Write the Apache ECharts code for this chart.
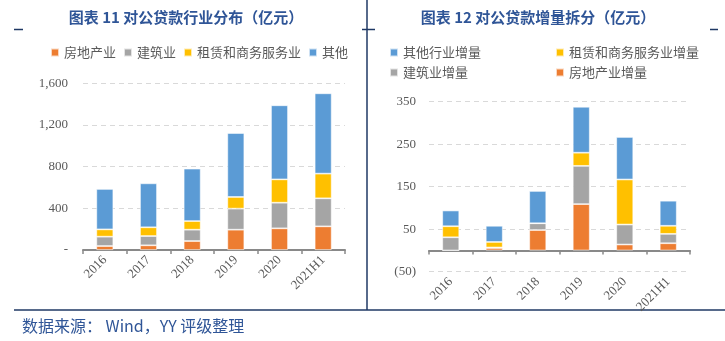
<!DOCTYPE html>
<html><head><meta charset="utf-8">
<script src="https://cdn.jsdelivr.net/npm/echarts@6/dist/echarts.min.js"></script>
<style>html,body{margin:0;padding:0;background:#fff}#c{width:725px;height:341px}</style>
</head><body><div id="c"></div>
<script>
// ---- data ----
const categories = ['2016','2017','2018','2019','2020','2021H1'];
// left chart: 对公贷款行业分布（亿元）
const leftNames = ['房地产业','建筑业','租赁和商务服务业','其他'];
const leftRealEstate = [38, 45, 86, 195, 208, 227];
const leftConstruction = [90, 89, 109, 202, 246, 269];
const leftLeasing = [70, 84, 83, 112, 224, 237];
const leftOther = [388, 422, 503, 614, 711, 771];
const leftTicks = [0, 400, 800, 1200, 1600];
// right chart: 对公贷款增量拆分（亿元）
const rightNames = ['房地产业增量','建筑业增量','租赁和商务服务业增量','其他行业增量'];
const rightRealEstate = [0, 6, 48, 109, 14, 17];
const rightConstruction = [31, 1, 16, 90, 47, 22];
const rightLeasing = [26, 13, 0, 31, 106, 19];
const rightOther = [37, 38, 76, 108, 100, 59];
const rightTicks = [-50, 50, 150, 250, 350];

const colors = ['#ED7D31','#A5A5A5','#FFC000','#5B9BD5'];
const gray = '#595959';
const serif = "'Liberation Serif','Times New Roman',serif";
const cjk = "'Noto Sans CJK SC','Noto Sans',sans-serif";
const navy = '#1F3864';

const chart = echarts.init(document.getElementById('c'), null, {renderer:'canvas'});

function bar(name, data, idx, color){
  return {name, type:'bar', stack:'s'+idx, xAxisIndex:idx, yAxisIndex:idx, data,
    barWidth:17, itemStyle:{color, borderColor:'rgba(255,255,255,0.7)', borderWidth:0.8}};
}
const xAxisBase = {
  type:'category', data:categories,
  axisLine:{lineStyle:{color:'#898989', width:2}},
  axisTick:{show:true, length:4, lineStyle:{color:'#898989', width:1.5}},
  axisLabel:{rotate:45, fontFamily:serif, fontSize:13, color:gray, margin:8, interval:0}
};
const legendText = {fontFamily:cjk, fontSize:13, color:gray};
function leg(name, left, top){
  return {data:[name], left, top, padding:0, itemWidth:8, itemHeight:8, icon:'rect',
    itemGap:5, textStyle:legendText, selectedMode:false};
}

chart.setOption({
  animation:false,
  grid:[
    {left:83, width:262, top:83.3, height:166.7},
    {left:429, width:261, top:101.7, height:170}
  ],
  xAxis:[
    Object.assign({gridIndex:0}, xAxisBase),
    Object.assign({gridIndex:1}, xAxisBase)
  ],
  yAxis:[
    {gridIndex:0, type:'value', min:leftTicks[0], max:leftTicks[leftTicks.length-1], interval:400,
     axisLine:{show:false}, axisTick:{show:false},
     splitLine:{lineStyle:{color:'#D9D9D9', type:[5,4], width:1}},
     axisLabel:{fontFamily:serif, fontSize:13, color:gray, margin:15,
       formatter:v => v===0 ? '-' : v.toLocaleString('en-US')}},
    {gridIndex:1, type:'value', min:rightTicks[0], max:rightTicks[rightTicks.length-1], interval:100,
     axisLine:{show:false}, axisTick:{show:false},
     splitLine:{lineStyle:{color:'#D9D9D9', type:[5,4], width:1}},
     axisLabel:{fontFamily:serif, fontSize:13, color:gray, margin:13,
       formatter:v => v<0 ? '('+(-v)+')' : String(v)}}
  ],
  legend:[
    {data:leftNames, left:50, top:46, padding:0, itemWidth:8, itemHeight:8, icon:'rect',
     itemGap:7, textStyle:legendText, selectedMode:false},
    leg('其他行业增量', 389, 46),
    leg('租赁和商务服务业增量', 555, 46),
    leg('建筑业增量', 389, 66),
    leg('房地产业增量', 555, 66)
  ],
  series:[
    bar(leftNames[0], leftRealEstate, 0, colors[0]),
    bar(leftNames[1], leftConstruction, 0, colors[1]),
    bar(leftNames[2], leftLeasing, 0, colors[2]),
    bar(leftNames[3], leftOther, 0, colors[3]),
    bar(rightNames[0], rightRealEstate, 1, colors[0]),
    bar(rightNames[1], rightConstruction, 1, colors[1]),
    bar(rightNames[2], rightLeasing, 1, colors[2]),
    bar(rightNames[3], rightOther, 1, colors[3])
  ],
  graphic:[
    {type:'text', x:186, y:17, style:{text:'图表 11 对公贷款行业分布（亿元）', fontFamily:cjk, fontWeight:'bold', fontSize:15, fill:'#2F5597', align:'center', verticalAlign:'middle'}},
    {type:'text', x:538, y:17, style:{text:'图表 12 对公贷款增量拆分（亿元）', fontFamily:cjk, fontWeight:'bold', fontSize:15, fill:'#2F5597', align:'center', verticalAlign:'middle'}},
    {type:'line', shape:{x1:367, y1:0, x2:367, y2:310}, style:{stroke:navy, lineWidth:1.5}},
    {type:'line', shape:{x1:14, y1:310, x2:725, y2:310}, style:{stroke:navy, lineWidth:1.5}},
    {type:'line', shape:{x1:14, y1:29.5, x2:23, y2:29.5}, style:{stroke:navy, lineWidth:1.5}},
    {type:'line', shape:{x1:362, y1:29.5, x2:375, y2:29.5}, style:{stroke:navy, lineWidth:1.5}},
    {type:'line', shape:{x1:710, y1:29.5, x2:718, y2:29.5}, style:{stroke:navy, lineWidth:1.5}},
    {type:'text', x:22, y:326, style:{text:'数据来源： Wind，YY 评级整理', fontFamily:cjk, fontSize:16, fill:'#2F5597', align:'left', verticalAlign:'middle'}}
  ]
});
</script></body></html>
